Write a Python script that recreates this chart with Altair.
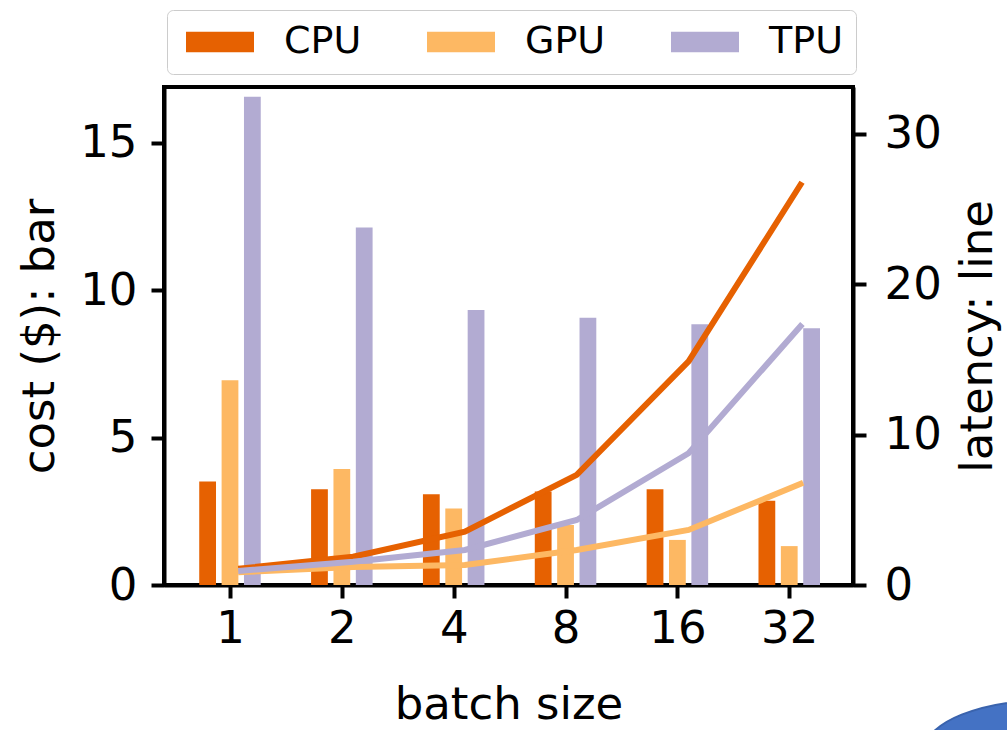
import altair as alt
import pandas as pd

# Batch sizes on the x axis and the three accelerator types
batch_sizes = ["1", "2", "4", "8", "16", "32"]
devices = ["CPU", "GPU", "TPU"]
device_colors = ["#e66101", "#fdb863", "#b2abd2"]

# Cost in dollars (bars, left axis)
cost_cpu = [3.51, 3.25, 3.08, 3.17, 3.25, 2.86]
cost_gpu = [6.95, 3.94, 2.60, 2.04, 1.53, 1.32]
cost_tpu = [16.57, 12.13, 9.33, 9.07, 8.85, 8.71]

# Latency (lines, right axis)
lat_cpu = [1.10, 1.88, 3.55, 7.32, 14.86, 26.6]
lat_gpu = [0.85, 1.20, 1.33, 2.33, 3.66, 6.72]
lat_tpu = [0.95, 1.55, 2.33, 4.32, 8.76, 17.2]

bar_offsets = {"CPU": -0.2, "GPU": 0.0, "TPU": 0.2}
bar_width = 0.15
line_offset = 0.1

costs = {"CPU": cost_cpu, "GPU": cost_gpu, "TPU": cost_tpu}
lats = {"CPU": lat_cpu, "GPU": lat_gpu, "TPU": lat_tpu}

bar_rows, line_rows = [], []
for dev in devices:
    for i, b in enumerate(batch_sizes):
        c = i + bar_offsets[dev]
        bar_rows.append({"device": dev, "batch": b, "x0": c - bar_width / 2,
                         "x1": c + bar_width / 2, "cost": costs[dev][i]})
        line_rows.append({"device": dev, "batch": b, "pos": i + line_offset,
                          "latency": lats[dev][i]})
bars_df = pd.DataFrame(bar_rows)
lines_df = pd.DataFrame(line_rows)

FONT = "DejaVu Sans"
x_scale = alt.Scale(domain=[-0.59, 5.57], nice=False, zero=False)
color_scale = alt.Scale(domain=devices, range=device_colors)

# Wide flat legend swatches: the path spans x in [-2, 2], so the drawn patch
# is twice as wide as the nominal symbol size used for layout.
legend = alt.Legend(
    title=None, orient="none", direction="horizontal",
    legendX=3, legendY=-77,
    symbolType="M-2,-0.6H2V0.6H-2Z", symbolSize=1156,
    symbolOffset=21,
    symbolStrokeWidth=0, symbolOpacity=1,
    labelFontSize=38, labelFont=FONT, labelColor="black",
    labelOffset=45, columnPadding=59,
    padding=13, cornerRadius=6,
    strokeColor="#cccccc", fillColor="white",
)

x_axis = alt.Axis(
    values=list(range(len(batch_sizes))),
    labelExpr="['1','2','4','8','16','32'][datum.value]",
    title="batch size", labelPadding=8, titlePadding=31,
)

bars = alt.Chart(bars_df).mark_rect(opacity=1).encode(
    x=alt.X("x0:Q", scale=x_scale, axis=x_axis),
    x2="x1:Q",
    y=alt.Y("cost:Q",
            scale=alt.Scale(domain=[0, 16.9], nice=False),
            axis=alt.Axis(values=[0, 5, 10, 15], title="cost ($): bar",
                          orient="left", labelPadding=14, titlePadding=17)),
    y2=alt.datum(0),
    color=alt.Color("device:N", scale=color_scale, legend=legend),
)

lines = alt.Chart(lines_df).mark_line(strokeWidth=6, strokeCap="square").encode(
    x=alt.X("pos:Q", scale=x_scale),
    y=alt.Y("latency:Q",
            scale=alt.Scale(domain=[0, 33.1], nice=False),
            axis=alt.Axis(values=[0, 10, 20, 30], title="latency: line",
                          orient="right", labelPadding=18, titlePadding=14,
                          titleAngle=270, titleBaseline="top")),
    color=alt.Color("device:N", scale=color_scale, legend=legend),
    detail="device:N",
)

# Decorative ellipse peeking in at the lower right corner
blob = alt.Chart(pd.DataFrame({"k": [0]})).mark_point(
    shape="M-1,0A1,0.4,0,1,1,1,0A1,0.4,0,1,1,-1,0Z",
    size=62500, filled=True, fill="#4472c4", stroke="#3a63ad",
    strokeWidth=2, opacity=1,
).encode(x=alt.value(886), y=alt.value(663))

chart = (
    alt.layer(bars, lines, blob)
    .resolve_scale(y="independent")
    .properties(
        width=689, height=498,
        autosize=alt.AutoSizeParams(type="none"),
        padding={"left": 164, "top": 87, "right": 154, "bottom": 145},
        background="white",
    )
    .configure_view(stroke="black", strokeWidth=4)
    .configure_axis(
        grid=False, domainColor="black", domainWidth=4,
        tickColor="black", tickWidth=4, tickSize=13,
        labelFont=FONT, labelFontSize=45, labelColor="black",
        titleFont=FONT, titleFontSize=45, titleFontWeight="normal",
        titleColor="black",
    )
)

chart.save("out.html", embed_options={"renderer": "svg", "actions": False})
